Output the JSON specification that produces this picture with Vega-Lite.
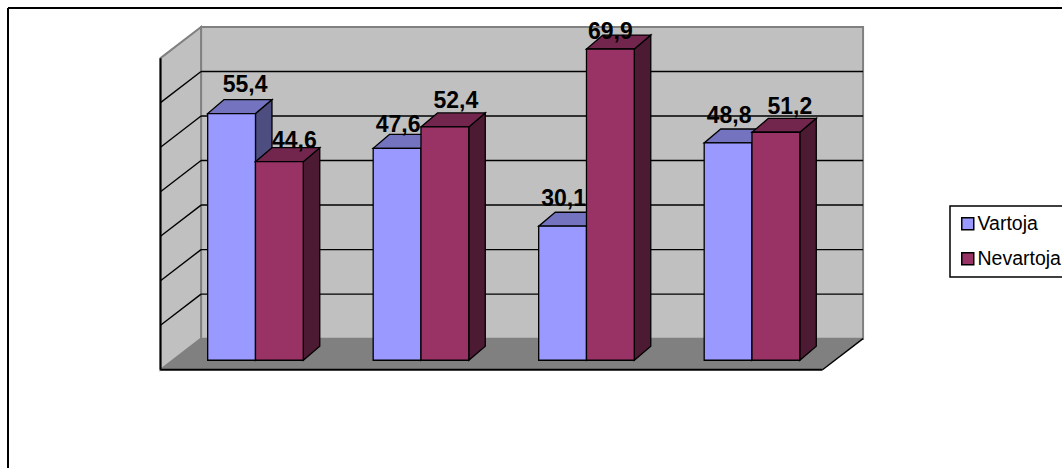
{
  "$schema": "https://vega.github.io/schema/vega-lite/v6.json",
  "width": 1054,
  "height": 460,
  "autosize": {"type": "none"},
  "padding": {"left": 8, "top": 8, "right": 0, "bottom": 0},
  "background": "white",
  "config": {
    "view": {"stroke": null},
    "font": "Liberation Sans",
    "locale": {"number": {"decimal": ",", "thousands": ".", "grouping": [3], "currency": ["", " €"]}}
  },
  "datasets": {
    "shares": [
      {"klase": "I", "k": 0, "serija": "Vartoja", "s": 0, "value": 55.4},
      {"klase": "II", "k": 1, "serija": "Vartoja", "s": 0, "value": 47.6},
      {"klase": "III", "k": 2, "serija": "Vartoja", "s": 0, "value": 30.1},
      {"klase": "IV", "k": 3, "serija": "Vartoja", "s": 0, "value": 48.8},
      {"klase": "I", "k": 0, "serija": "Nevartoja", "s": 1, "value": 44.6},
      {"klase": "II", "k": 1, "serija": "Nevartoja", "s": 1, "value": 52.4},
      {"klase": "III", "k": 2, "serija": "Nevartoja", "s": 1, "value": 69.9},
      {"klase": "IV", "k": 3, "serija": "Nevartoja", "s": 1, "value": 51.2}
    ],
    "depthEnds": [{"d": 0}, {"d": 1}],
    "gridLevels": [{"v": 10}, {"v": 20}, {"v": 30}, {"v": 40}, {"v": 50}, {"v": 60}],
    "single": [{"one": 1}]
  },
  "layer": [
    {
      "description": "Floor, which also carries the two axes",
      "data": {"name": "depthEnds"},
      "transform": [
        {"calculate": "datum.d * 0.245", "as": "xa"},
        {"calculate": "4 + datum.d * 0.245", "as": "xb"},
        {"calculate": "datum.d * 7", "as": "lo"}
      ],
      "mark": {"type": "area", "fill": "#808080", "orient": "horizontal"},
      "encoding": {
        "x": {"field": "xa", "type": "quantitative", "axis": {
          "orient": "bottom", "offset": -98.2, "values": [0, 1, 2, 3, 4], "domain": false, "grid": false,
          "tickColor": "black", "tickWidth": 2, "tickSize": 6,
          "labelExpr": "['I','II','III','IV',''][datum.value]", "labelOffset": 82.75, "labelAngle": 0,
          "labelFontSize": 19, "labelColor": "black", "labelPadding": 8, "labelFont": "Liberation Sans",
          "title": "Klasė", "titleFontSize": 20, "titleFontWeight": "bold", "titleColor": "black",
          "titleFont": "Liberation Sans", "titleX": 482, "titleY": 61, "titleBaseline": "middle", "titleAlign": "center"
        }, "scale": {"domain": [-0.9215, 5.447], "nice": false, "zero": false}},
        "x2": {"field": "xb"},
        "y": {"field": "lo", "type": "quantitative", "axis": {
          "orient": "left", "offset": -152.5, "values": [0, 10, 20, 30, 40, 50, 60, 70], "domain": false, "grid": false,
          "tickColor": "black", "tickWidth": 2, "tickSize": 6,
          "labelFontSize": 19, "labelColor": "black", "labelPadding": 2, "labelFont": "Liberation Sans",
          "title": "%", "titleAngle": 0, "titleFontSize": 20, "titleFontWeight": "bold", "titleColor": "black",
          "titleFont": "Liberation Sans", "titleX": -51.5, "titleY": 205, "titleBaseline": "middle", "titleAlign": "center"
        }, "scale": {"domain": [-22.05, 81.26], "nice": false, "zero": false}}
      }
    },
    {
      "description": "Outer chart frame, top and left edges",
      "data": {"name": "single"},
      "layer": [
        {
          "mark": {"type": "rule", "stroke": "black", "strokeWidth": 2},
          "encoding": {
            "x": {"datum": -0.9215, "type": "quantitative", "axis": null},
            "x2": {"datum": 5.447},
            "y": {"datum": 81.26, "type": "quantitative", "axis": null}
          }
        },
        {
          "mark": {"type": "rule", "stroke": "black", "strokeWidth": 2},
          "encoding": {
            "x": {"datum": -0.9215, "type": "quantitative", "axis": null},
            "y": {"datum": -22.05, "type": "quantitative", "axis": null},
            "y2": {"datum": 81.26}
          }
        }
      ]
    },
    {
      "description": "Back wall",
      "data": {"name": "single"},
      "mark": {"type": "rect", "fill": "#C0C0C0", "stroke": "#808080", "strokeWidth": 2},
      "encoding": {
        "x": {"datum": 0.245, "type": "quantitative", "axis": null},
        "x2": {"datum": 4.245},
        "y": {"datum": 77, "type": "quantitative", "axis": null},
        "y2": {"datum": 7}
      }
    },
    {
      "description": "Side wall",
      "data": {"name": "depthEnds"},
      "transform": [
        {"calculate": "datum.d * 0.245", "as": "px"},
        {"calculate": "datum.d * 7", "as": "lo"},
        {"calculate": "70 + datum.d * 7", "as": "hi"}
      ],
      "mark": {"type": "area", "fill": "#C0C0C0", "stroke": "#808080", "strokeWidth": 2, "orient": "vertical"},
      "encoding": {
        "x": {"field": "px", "type": "quantitative", "axis": null},
        "y": {"field": "hi", "type": "quantitative", "axis": null},
        "y2": {"field": "lo"}
      }
    },
    {
      "description": "Floor surface drawn above the foot of the walls",
      "data": {"name": "depthEnds"},
      "transform": [
        {"calculate": "datum.d * 0.245", "as": "xa"},
        {"calculate": "4 + datum.d * 0.245", "as": "xb"},
        {"calculate": "datum.d * 7", "as": "lo"}
      ],
      "mark": {"type": "area", "fill": "#808080", "orient": "horizontal"},
      "encoding": {
        "x": {"field": "xa", "type": "quantitative", "axis": null},
        "x2": {"field": "xb"},
        "y": {"field": "lo", "type": "quantitative", "axis": null}
      }
    },
    {
      "description": "Gridlines across the back wall and side wall",
      "data": {"name": "gridLevels"},
      "transform": [{"calculate": "datum.v + 7", "as": "w"}],
      "layer": [
        {
          "mark": {"type": "rule", "stroke": "black", "strokeWidth": 1.4},
          "encoding": {
            "x": {"datum": 0.245, "type": "quantitative", "axis": null},
            "x2": {"datum": 4.245},
            "y": {"field": "w", "type": "quantitative", "axis": null}
          }
        },
        {
          "mark": {"type": "rule", "stroke": "black", "strokeWidth": 1.4},
          "encoding": {
            "x": {"datum": 0, "type": "quantitative", "axis": null},
            "x2": {"datum": 0.245},
            "y": {"field": "v", "type": "quantitative", "axis": null},
            "y2": {"field": "w"}
          }
        }
      ]
    },
    {
      "description": "Value axis line, category axis line and right floor edge",
      "data": {"name": "single"},
      "layer": [
        {
          "mark": {"type": "rule", "stroke": "black", "strokeWidth": 2},
          "encoding": {
            "x": {"datum": 0, "type": "quantitative", "axis": null},
            "y": {"datum": 0, "type": "quantitative", "axis": null},
            "y2": {"datum": 70}
          }
        },
        {
          "mark": {"type": "rule", "stroke": "black", "strokeWidth": 2},
          "encoding": {
            "x": {"datum": 0, "type": "quantitative", "axis": null},
            "x2": {"datum": 4},
            "y": {"datum": 0, "type": "quantitative", "axis": null}
          }
        },
        {
          "mark": {"type": "rule", "stroke": "black", "strokeWidth": 1.4},
          "encoding": {
            "x": {"datum": 4, "type": "quantitative", "axis": null},
            "x2": {"datum": 4.245},
            "y": {"datum": 0, "type": "quantitative", "axis": null},
            "y2": {"datum": 7}
          }
        }
      ]
    },
    {
      "description": "3D columns: each one is a side face, a top face, a front face and a value label",
      "data": {"name": "shares"},
      "transform": [
        {"calculate": "[0, 1]", "as": "d"},
        {"flatten": ["d"]},
        {"calculate": "datum.k + 0.285 + datum.s * 0.2888", "as": "xL"},
        {"calculate": "datum.xL + 0.2888", "as": "xR"},
        {"calculate": "datum.xL + datum.d * 0.0997", "as": "topL"},
        {"calculate": "datum.xR + datum.d * 0.0997", "as": "topR"},
        {"calculate": "datum.value + 2.15", "as": "yFront"},
        {"calculate": "datum.value + 2.15 + datum.d * 3.14", "as": "yTop"},
        {"calculate": "2.15 + datum.d * 3.14", "as": "yBase"},
        {"calculate": "datum.xL + 0.1444 + {'IVartoja':0.0816,'IIVartoja':0.006,'IIIVartoja':0.006,'IVVartoja':0.006,'INevartoja':0.0906,'IINevartoja':0.0665,'IIINevartoja':0,'IVNevartoja':0.0846}[datum.klase + datum.serija]", "as": "labelX"},
        {"calculate": "datum.yFront + {'IVartoja':6.51,'IIVartoja':5.17,'IIIVartoja':6.06,'IVVartoja':5.97,'INevartoja':4.72,'IINevartoja':5.84,'IIINevartoja':3.82,'IVNevartoja':5.61}[datum.klase + datum.serija]", "as": "labelY"}
      ],
      "layer": [
        {
          "transform": [{"filter": "datum.serija === 'Vartoja'"}],
          "layer": [
            {
              "mark": {"type": "area", "fill": "#4D4D80", "stroke": "black", "strokeWidth": 1.3, "orient": "vertical"},
              "encoding": {
                "x": {"field": "topR", "type": "quantitative", "axis": null},
                "y": {"field": "yTop", "type": "quantitative", "axis": null},
                "y2": {"field": "yBase"},
                "detail": {"field": "klase"}
              }
            },
            {
              "mark": {"type": "area", "fill": "#7373BF", "stroke": "black", "strokeWidth": 1.3, "orient": "horizontal"},
              "encoding": {
                "x": {"field": "topL", "type": "quantitative", "axis": null},
                "x2": {"field": "topR"},
                "y": {"field": "yTop", "type": "quantitative", "axis": null},
                "detail": {"field": "klase"}
              }
            },
            {
              "transform": [{"filter": "datum.d === 0"}],
              "layer": [
                {
                  "mark": {"type": "rect", "stroke": "black", "strokeWidth": 1.3},
                  "encoding": {
                    "x": {"field": "xL", "type": "quantitative", "axis": null},
                    "x2": {"field": "xR"},
                    "y": {"field": "yFront", "type": "quantitative", "axis": null},
                    "y2": {"datum": 2.15},
                    "fill": {"field": "serija", "type": "nominal",
                      "scale": {"domain": ["Vartoja", "Nevartoja"], "range": ["#9999FF", "#993366"]},
                      "legend": {
                        "title": null, "orient": "none", "legendX": 942, "legendY": 198,
                        "symbolType": "square", "symbolSize": 144, "symbolStrokeColor": "black", "symbolStrokeWidth": 1.5,
                        "symbolOpacity": 1, "labelFontSize": 19.5, "labelColor": "black", "labelFont": "Liberation Sans",
                        "labelOffset": 0, "rowPadding": 14, "padding": 8, "strokeColor": "black",
                        "labelLimit": 200,
                        "encode": {"legend": {"update": {"strokeWidth": {"value": 1.5}}}}
                      }}
                  }
                },
                {
                  "mark": {"type": "text", "font": "Liberation Sans", "fontSize": 23, "fontWeight": "bold", "fill": "black", "baseline": "middle", "align": "center"},
                  "encoding": {
                    "x": {"field": "labelX", "type": "quantitative", "axis": null},
                    "y": {"field": "labelY", "type": "quantitative", "axis": null},
                    "text": {"field": "value", "type": "quantitative", "format": ".1f"}
                  }
                }
              ]
            }
          ]
        },
        {
          "transform": [{"filter": "datum.serija === 'Nevartoja'"}],
          "layer": [
            {
              "mark": {"type": "area", "fill": "#4D1A33", "stroke": "black", "strokeWidth": 1.3, "orient": "vertical"},
              "encoding": {
                "x": {"field": "topR", "type": "quantitative", "axis": null},
                "y": {"field": "yTop", "type": "quantitative", "axis": null},
                "y2": {"field": "yBase"},
                "detail": {"field": "klase"}
              }
            },
            {
              "mark": {"type": "area", "fill": "#73264D", "stroke": "black", "strokeWidth": 1.3, "orient": "horizontal"},
              "encoding": {
                "x": {"field": "topL", "type": "quantitative", "axis": null},
                "x2": {"field": "topR"},
                "y": {"field": "yTop", "type": "quantitative", "axis": null},
                "detail": {"field": "klase"}
              }
            },
            {
              "transform": [{"filter": "datum.d === 0"}],
              "layer": [
                {
                  "mark": {"type": "rect", "stroke": "black", "strokeWidth": 1.3},
                  "encoding": {
                    "x": {"field": "xL", "type": "quantitative", "axis": null},
                    "x2": {"field": "xR"},
                    "y": {"field": "yFront", "type": "quantitative", "axis": null},
                    "y2": {"datum": 2.15},
                    "fill": {"field": "serija", "type": "nominal"}
                  }
                },
                {
                  "mark": {"type": "text", "font": "Liberation Sans", "fontSize": 23, "fontWeight": "bold", "fill": "black", "baseline": "middle", "align": "center"},
                  "encoding": {
                    "x": {"field": "labelX", "type": "quantitative", "axis": null},
                    "y": {"field": "labelY", "type": "quantitative", "axis": null},
                    "text": {"field": "value", "type": "quantitative", "format": ".1f"}
                  }
                }
              ]
            }
          ]
        }
      ]
    }
  ]
}
